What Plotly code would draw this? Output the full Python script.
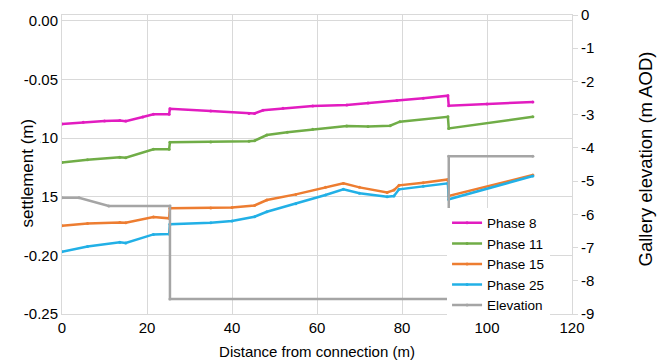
import plotly.graph_objects as go

# ---- data ----
p8_x = [0, 5, 10, 13.6, 15, 19, 21.5, 25.2, 25.4, 35, 44, 45.3, 47.3, 52, 59, 67, 72, 78.8, 85, 90.8, 91, 100, 110.8]
p8_y = [-0.088, -0.0865, -0.0855, -0.085, -0.0855, -0.082, -0.0797, -0.0797, -0.075, -0.0768, -0.079, -0.079,
        -0.0762, -0.0745, -0.0726, -0.0718, -0.070, -0.068, -0.066, -0.0638, -0.0724, -0.071, -0.0692]

p11_x = [0, 6, 13.6, 15, 21.5, 25.2, 25.4, 35, 44, 45.3, 48.2, 53, 59, 67, 72, 77.2, 79.5, 90.8, 91, 110.8]
p11_y = [-0.1207, -0.1185, -0.1164, -0.1168, -0.1096, -0.1096, -0.1036, -0.1033, -0.1027, -0.1022, -0.0974,
         -0.095, -0.0925, -0.0897, -0.090, -0.0894, -0.086, -0.0818, -0.0917, -0.0818]

p15_x = [0, 6, 13.6, 15, 21.5, 25.2, 25.4, 35, 40, 45.3, 48.2, 55, 62, 66.2, 70, 76.5, 78.1, 79.3, 85, 90.8, 91, 110.8]
p15_y = [-0.1747, -0.1728, -0.1719, -0.1722, -0.1673, -0.1684, -0.1599, -0.1595, -0.1591, -0.1574, -0.1528,
         -0.148, -0.142, -0.1386, -0.142, -0.1463, -0.1443, -0.1403, -0.138, -0.1352, -0.1494, -0.1315]

p25_x = [0, 6, 13.6, 15, 21.5, 25.2, 25.4, 35, 40, 45.3, 48.2, 55, 62, 66.2, 70, 76.5, 78.1, 79.3, 85, 90.8, 91, 110.8]
p25_y = [-0.1969, -0.1925, -0.1889, -0.1895, -0.1821, -0.1818, -0.1735, -0.1722, -0.1707, -0.167, -0.1628,
         -0.156, -0.1485, -0.1437, -0.147, -0.150, -0.1494, -0.1437, -0.141, -0.1386, -0.1522, -0.1323]

elev_x = [0, 4, 11, 25.4, 25.4, 91, 91, 110.8]
elev_y = [-5.5, -5.5, -5.75, -5.75, -8.55, -8.55, -4.25, -4.25]

y1_ticks = [0, -0.05, -0.10, -0.15, -0.20, -0.25]
y1_text = ["0.00", "-0.05", "-0.10", "-0.15", "-0.20", "-0.25"]
y2_ticks = [0, -1, -2, -3, -4, -5, -6, -7, -8, -9]
y2_text = ["0", "-1", "-2", "-3", "-4", "-5", "-6", "-7", "-8", "-9"]
x_ticks = [0, 20, 40, 60, 80, 100, 120]

FONT = "Liberation Sans, Arial, sans-serif"
GRID = "#D9D9D9"

fig = go.Figure()
series = [
    ("Phase 8", p8_x, p8_y, "#E21CC0"),
    ("Phase 11", p11_x, p11_y, "#70AD47"),
    ("Phase 15", p15_x, p15_y, "#ED7D31"),
    ("Phase 25", p25_x, p25_y, "#22B0E6"),
]
for name, xs, ys, col in series:
    fig.add_trace(go.Scatter(x=xs, y=ys, name=name, mode="lines+markers",
                             line=dict(color=col, width=2.5),
                             marker=dict(size=3, color=col)))
fig.add_trace(go.Scatter(x=elev_x, y=elev_y, name="Elevation", mode="lines+markers", yaxis="y2",
                         line=dict(color="#A5A5A5", width=2.5),
                         marker=dict(size=3, color="#A5A5A5")))

fig.update_layout(
    width=661, height=360,
    margin=dict(l=62, r=89, t=15, b=46),
    paper_bgcolor="white", plot_bgcolor="white",
    font=dict(family=FONT, size=15, color="#000000"),
    showlegend=True,
    legend=dict(x=0.755, y=0.356, xanchor="left", yanchor="top",
                bgcolor="white", borderwidth=0, font=dict(size=13.5, family=FONT),
                tracegroupgap=0),
    xaxis=dict(range=[0, 120], tickvals=x_ticks, showgrid=True, gridcolor=GRID, gridwidth=1,
               showline=True, linecolor=GRID, linewidth=1, mirror=True, zeroline=False,
               ticks="", tickfont=dict(size=15), automargin=False,
               title=dict(text="Distance from connection (m)", font=dict(size=15), standoff=12)),
    yaxis=dict(range=[-0.25, 0.005], tickvals=y1_ticks, ticktext=y1_text, showgrid=True,
               gridcolor=GRID, gridwidth=1, showline=True, linecolor=GRID, linewidth=1,
               zeroline=False, ticks="", tickfont=dict(size=15), automargin=False),
    yaxis2=dict(range=[-9, 0], overlaying="y", side="right", tickvals=y2_ticks, ticktext=y2_text,
                showgrid=False, showline=True, linecolor=GRID, linewidth=1, zeroline=False,
                ticks="outside", ticklen=5, tickcolor=GRID, tickfont=dict(size=15), automargin=False,
                ticklabeloverflow="allow"),
)

fig.add_annotation(text="settlement (m)", textangle=-90, xref="paper", yref="paper",
                   x=-0.0686, y=0.47, xanchor="center", yanchor="middle", showarrow=False,
                   font=dict(size=17, family=FONT), bgcolor="white", borderpad=3)
fig.add_annotation(text="Gallery elevation (m AOD)", textangle=-90, xref="paper", yref="paper",
                   x=1.145, y=0.52, xanchor="center", yanchor="middle", showarrow=False,
                   font=dict(size=18.5, family=FONT))

# remove the default 8px page margin so the 661x360 figure fills the window exactly
fig.write_html("out.html", config={"displayModeBar": False},
               post_script="document.body.style.margin='0';")
